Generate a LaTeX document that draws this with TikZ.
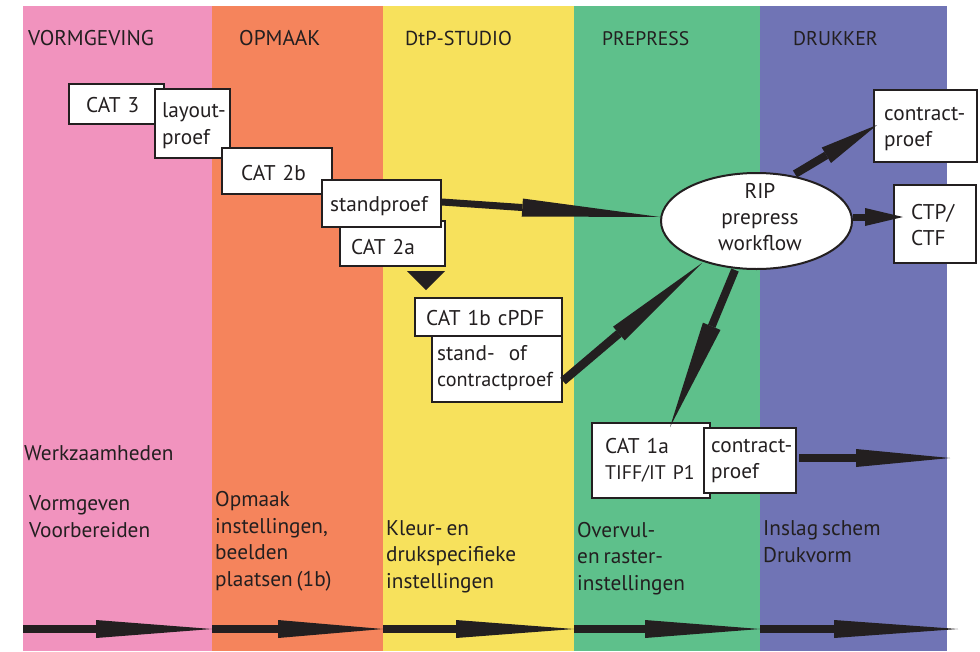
\documentclass[tikz,border=0pt]{standalone}
\usepackage{fontspec}
\setmainfont[WordSpace=0.7]{PT Sans}
\usetikzlibrary{arrows.meta,shapes.geometric}
\definecolor{inkc}{HTML}{231F20}
\definecolor{pinkb}{HTML}{F193BE}
\definecolor{orangeb}{HTML}{F5845C}
\definecolor{yellowb}{HTML}{F7E15C}
\definecolor{greenb}{HTML}{5EC08B}
\definecolor{blueb}{HTML}{7074B5}
\newcommand{\fs}[1]{\fontsize{#1pt}{26.4pt}\selectfont}
\tikzset{
  bandbox/.style={fill=#1,draw=none},
  lbl/.style={inner sep=0pt,anchor=base west,align=left,text=inkc,font=\fs{21.3}},
  bx/.style={draw=inkc,fill=white,line width=2pt,inner sep=0pt},
  bxt/.style={inner sep=0pt,align=left,text=inkc,font=\fs{21.3}},
  fat/.style={draw=inkc,line width=#1},
  fat/.default=7pt
}
\newcommand{\wbox}[8]{% name x0 y0 x1 y1 leftpad dy text
  \pgfmathsetmacro{\bw}{#4-#2-2}\pgfmathsetmacro{\bh}{#5-#3-2}
  \pgfmathsetmacro{\tw}{#4-#2+40}
  \node[bx,minimum width=\bw pt,minimum height=\bh pt] (#1) at ({(#2+#4)/2},{(#3+#5)/2}) {};
  \node[bxt,anchor=west,text width=\tw pt] (#1t) at ({#2+#6},{(#3+#5)/2+1+#7}) {#8};}
\newcommand{\fatarrow}[5]{% start end len width shaft
  \draw[fat=#5pt,-{Triangle[length=#3pt,width=#4pt,line width=0pt]}] (#1) -- (#2);}
\begin{document}
\begin{tikzpicture}[x=1pt,y=-1pt]
\useasboundingbox (0,0) rectangle (980,651);
\fill[white] (0,0) rectangle (980,651);
\fill[bandbox=pinkb] (23,6) rectangle (212,651);
\fill[bandbox=orangeb] (212,6) rectangle (383,651);
\fill[bandbox=yellowb] (383,6) rectangle (574,651);
\fill[bandbox=greenb] (574,6) rectangle (760,651);
\fill[bandbox=blueb] (760,6) rectangle (947,651);

\node[lbl] (h1) at (28,45) {VORMGEVING};
\node[lbl] (h2) at (239,45) {OPMAAK};
\node[lbl,font=\fs{20.2}] (h3) at (405,45) {DtP-STUDIO};
\node[lbl,font=\fs{19.6}] (h4) at (602,45) {PREPRESS};
\node[lbl,font=\fs{19.9}] (h5) at (793,45) {DRUKKER};

\node[lbl] (w0) at (24,460) {Werkzaamheden};
\node[lbl] (w1) at (29,537) {Vormgeven\\Voorbereiden};
\node[lbl] (w2) at (215,586) {Opmaak\\instellingen,\\beelden\\plaatsen (1b)};
\node[lbl] (w3) at (386,588) {Kleur- en\\drukspecifieke\\instellingen};
\node[lbl] (w4) at (577,590) {Overvul-\\en raster-\\instellingen};
\node[lbl] (w5) at (763,562) {Inslag schem\\Drukvorm};

\coordinate (b0) at (23,629);
\coordinate (b1) at (212,629);
\coordinate (b2) at (383,629);
\coordinate (b3) at (574,629);
\coordinate (b4) at (760,629);
\coordinate (b5) at (958,629);
\fatarrow{b0}{b1}{116}{18}{8}
\fatarrow{b1}{b2}{105}{18}{8}
\fatarrow{b2}{b3}{118}{18}{8}
\fatarrow{b3}{b4}{115}{18}{8}
\fatarrow{b4}{b5}{124}{18}{8}

\wbox{cat3}{68}{83}{165}{125}{18}{0}{CAT 3}
\wbox{layout}{154}{88}{231}{159}{8}{1}{layout-\\proef}
\wbox{cat2b}{221}{147}{333}{195}{20}{1}{CAT 2b}
\wbox{cat2a}{339}{220}{446}{267}{12}{3}{CAT 2a}
\wbox{stand}{321}{179}{442}{228}{9}{2}{standproef}
\wbox{cat1b}{414}{297}{563}{337}{12}{0}{CAT 1b cPDF}
\wbox{scp}{431}{335}{563}{403}{6}{-2}{stand-\ \ of\\\fs{20.2}contractproef}
\wbox{cp1}{873}{89}{978}{163}{11}{2}{contract-\\proef}
\wbox{ctp}{893}{184}{977}{264}{18}{0}{CTP/\\CTF}
\wbox{cat1a}{591}{422}{711}{499}{14}{-1}{CAT 1a\\\fs{19.7}TIFF/IT P1}
\wbox{cp2}{703}{427}{797}{494}{8}{-0.5}{contract-\\proef}

\node[draw=inkc,fill=white,line width=2pt,ellipse,inner sep=0pt,minimum width=191pt,minimum height=96pt] (rip) at (756.5,221) {};
\node[bxt,align=center] (ript) at (760,217) {RIP\\prepress\\workflow};

\fill[inkc] (407,271) -- (445,271) -- (426,290) -- cycle;

\coordinate (a1s) at (442,202);
\coordinate (a1e) at (660,217);
\fatarrow{a1s}{a1e}{138}{18}{7}
\coordinate (a2s) at (795,174);
\coordinate (a2e) at (877,125);
\fatarrow{a2s}{a2e}{59}{18}{8}
\coordinate (a3s) at (853,217);
\coordinate (a3e) at (903,217);
\fatarrow{a3s}{a3e}{38}{18}{7}
\coordinate (a4s) at (563,381);
\coordinate (a4e) at (702,263);
\fatarrow{a4s}{a4e}{109}{18}{8.5}
\coordinate (a5s) at (735,270);
\coordinate (a5e) at (670,427);
\fatarrow{a5s}{a5e}{109}{19}{8}
\coordinate (a6s) at (799,458);
\coordinate (a6e) at (950,458);
\fatarrow{a6s}{a6e}{94}{18}{8}
\end{tikzpicture}
\end{document}
